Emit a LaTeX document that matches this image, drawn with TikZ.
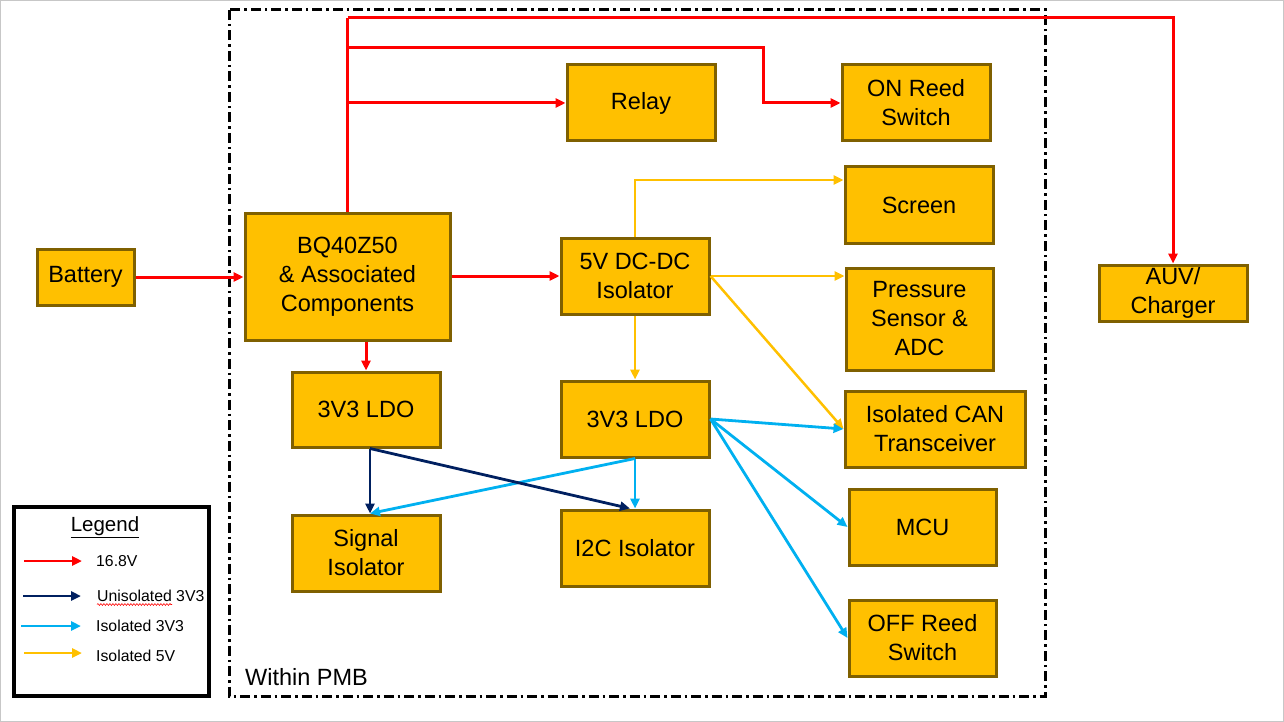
\documentclass[tikz,border=0pt]{standalone}
\usepackage{fontspec}
\setmainfont{Liberation Sans}
\usetikzlibrary{arrows.meta,decorations.pathmorphing}
\definecolor{boxfill}{HTML}{FFC000}
\definecolor{boxline}{HTML}{7F6000}
\definecolor{pred}{HTML}{FF0000}
\definecolor{pnavy}{HTML}{002060}
\definecolor{pblue}{HTML}{00B0F0}
\definecolor{pyel}{HTML}{FFC000}
\tikzset{
  blk/.style={draw=boxline, fill=boxfill, line width=3pt, align=center,
    font=\fontsize{23.5}{29}\selectfont, inner sep=0pt},
  tip/.style={-{Triangle[length=10pt,width=9pt]}},
  rl/.style={draw=pred, line width=3pt},
  nl/.style={draw=pnavy, line width=2.8pt},
  bl/.style={draw=pblue, line width=2.8pt},
  yl/.style={draw=pyel, line width=2.5pt},
  lgtxt/.style={anchor=west, font=\fontsize{15.8}{19}\selectfont, inner sep=0pt}
}
\begin{document}
\begin{tikzpicture}[x=1pt,y=-1pt]
\useasboundingbox (0,0) rectangle (1284,722);
\draw[color=black!22, line width=1.2pt] (0.6,0.6) rectangle (1283.4,721.4);
% PMB region
\draw[line width=3pt, dash pattern=on 10pt off 4pt on 2.5pt off 4pt] (229,10) rectangle (1045,696);
\node[anchor=west, font=\fontsize{23.5}{29}\selectfont, inner sep=0pt] (pmb) at (245,677) {Within PMB};
% boxes
\node[blk, minimum width=97pt, minimum height=56pt] (bat) at (85.5,277) {Battery};
\node[blk, minimum width=205pt, minimum height=127pt] (bq) at (347.5,276.5) {BQ40Z50\\\& Associated\\Components};
\node[blk, minimum width=148pt, minimum height=76pt] (relay) at (641,103) {Relay};
\node[blk, minimum width=148pt, minimum height=76pt] (onr) at (916,103) {ON Reed\\Switch};
\node[blk, minimum width=148pt, minimum height=76pt] (scr) at (919,205) {Screen};
\node[blk, minimum width=148pt, minimum height=76pt] (dcdc) at (635,276) {5V DC-DC\\Isolator};
\node[blk, minimum width=147pt, minimum height=102pt] (pres) at (919.5,319) {Pressure\\Sensor \&\\ADC};
\node[blk, minimum width=148pt, minimum height=75pt] (ldoa) at (366,409.5) {3V3 LDO};
\node[blk, minimum width=148pt, minimum height=76pt] (ldob) at (635,419) {3V3 LDO};
\node[blk, minimum width=180pt, minimum height=76pt] (can) at (935,429) {Isolated CAN\\Transceiver};
\node[blk, minimum width=148pt, minimum height=76pt] (sig) at (366,553) {Signal\\Isolator};
\node[blk, minimum width=148pt, minimum height=76pt] (i2c) at (635,548) {I2C Isolator};
\node[blk, minimum width=147pt, minimum height=76pt] (mcu) at (922.5,527) {MCU};
\node[blk, minimum width=147pt, minimum height=76pt] (off) at (922.5,638) {OFF Reed\\Switch};
\node[blk, minimum width=148pt, minimum height=56pt] (auv) at (1173,293) {AUV/\\Charger};
% red connectors
\coordinate (rtop) at (347.5,18);
\coordinate (rmid) at (347.5,48);
\coordinate (rrel) at (347.5,103);
\coordinate (rbend) at (763,103);
\draw[rl] (bq.north) -- (rtop);
\draw[rl, tip] (rtop) -| (auv.north);
\draw[rl, tip] (rmid) -| (rbend) -- (onr.west);
\draw[rl, tip] (rrel) -- (relay.west);
\draw[rl, tip] (bat.east) -- (bat.east -| bq.west);
\draw[rl, tip] (bq.east |- dcdc.west) -- (dcdc.west);
\draw[rl, tip] (ldoa.north |- bq.south) -- (ldoa.north);
% yellow connectors
\draw[yl, tip] (dcdc.north) |- ([yshift=25pt]scr.west);
\draw[yl, tip] (dcdc.east) -- (dcdc.east -| pres.west);
\draw[yl, tip] (dcdc.east) -- (can.west);
\draw[yl, tip] (dcdc.south) -- (ldob.north);
% blue connectors
\draw[bl, tip] (ldob.east) -- (can.west);
\draw[bl, tip] (ldob.east) -- (mcu.west);
\draw[bl, tip] (ldob.east) -- (off.west);
\draw[bl, tip] (ldob.south) -- (i2c.north);
\draw[bl, tip] (ldob.south) -- ([xshift=4pt]sig.north);
% navy connectors
\draw[nl, tip] ([xshift=4pt]ldoa.south) -- ([xshift=4pt]sig.north);
\draw[nl, tip] ([xshift=4pt]ldoa.south) -- ([xshift=-5pt]i2c.north);
% legend
\node[draw=black, line width=3.2pt, minimum width=195pt, minimum height=189pt, inner sep=0pt] (leg) at (111.5,601.5) {};
\node[font=\fontsize{20.5}{24}\selectfont, inner sep=0pt] (legt) at (105,527) {\underline{Legend}};
\coordinate (la1) at (24,561); \coordinate (lb1) at (82,561);
\coordinate (la2) at (23,596); \coordinate (lb2) at (81,596);
\coordinate (la3) at (21,626); \coordinate (lb3) at (81,626);
\coordinate (la4) at (24,653); \coordinate (lb4) at (82,653);
\draw[rl, tip, line width=2.6pt] (la1) -- (lb1);
\draw[nl, tip, line width=2.6pt] (la2) -- (lb2);
\draw[bl, tip, line width=2.6pt] (la3) -- (lb3);
\draw[yl, tip, line width=2.6pt] (la4) -- (lb4);
\node[lgtxt] (l1) at (96,561) {16.8V};
\node[lgtxt] (l2) at (97,596) {Unisolated 3V3};
\node[lgtxt] (l3) at (96,626) {Isolated 3V3};
\node[lgtxt] (l4) at (96,656) {Isolated 5V};
\coordinate (sq1) at (97,604.5); \coordinate (sq2) at (172,604.5);
\draw[pred, line width=0.6pt, decorate, decoration={snake, amplitude=0.9pt, segment length=3pt}] (sq1) -- (sq2);
\end{tikzpicture}
\end{document}
